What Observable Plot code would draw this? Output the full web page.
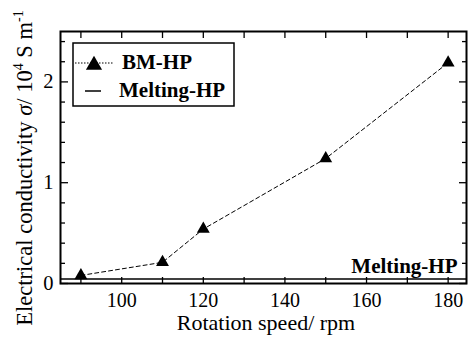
<!DOCTYPE html>
<html>
<head>
<meta charset="utf-8">
<script src="https://cdn.jsdelivr.net/npm/d3@7"></script>
<script src="https://cdn.jsdelivr.net/npm/@observablehq/plot@0.6"></script>
<style>
  html, body { margin: 0; padding: 0; background: #fff; }
  #chart svg { display: block; }
</style>
</head>
<body>
<div id="chart"></div>
<script>
// Data
const speeds = [90, 110, 120, 150, 180];
const bmHP = [0.08, 0.21, 0.54, 1.24, 2.19];
const meltingHP = 0.045;
const seriesNames = ["BM-HP", "Melting-HP"];
const xTickLabels = [100, 120, 140, 160, 180];
const xTicks = [90, 100, 110, 120, 130, 140, 150, 160, 170, 180];
const yTickLabels = [0, 1, 2];
const yMinorTicks = [0.2, 0.4, 0.6, 0.8, 1.2, 1.4, 1.6, 1.8, 2.2, 2.4];

const rows = speeds.map((s, i) => ({speed: s, sigma: bmHP[i]}));
const font = "Liberation Serif, Times New Roman, serif";

const plot = Plot.plot({
  width: 470,
  height: 340,
  marginLeft: 60,
  marginRight: 4,
  marginTop: 31,
  marginBottom: 57,
  style: {fontFamily: font, fontSize: "20px", color: "#000", background: "#fff"},
  x: {domain: [85, 184.5]},
  y: {domain: [0, 2.5]},
  marks: [
    // inward ticks
    Plot.axisX(xTicks, {anchor: "bottom", tickSize: -6, tickFormat: () => "", label: null, strokeWidth: 1.3}),
    Plot.axisX(xTicks, {anchor: "top", tickSize: -6, tickFormat: () => "", label: null, strokeWidth: 1.3}),
    Plot.axisX(xTickLabels, {anchor: "bottom", tickSize: 0, tickPadding: 9, tickFormat: d => String(d), label: null, fontFamily: font, fontSize: 20}),
    Plot.axisY(yTickLabels, {anchor: "left", tickSize: -8, tickFormat: () => "", label: null, strokeWidth: 1.3}),
    Plot.axisY(yTickLabels, {anchor: "right", tickSize: -8, tickFormat: () => "", label: null, strokeWidth: 1.3}),
    Plot.axisY(yMinorTicks, {anchor: "left", tickSize: -5, tickFormat: () => "", label: null, strokeWidth: 1.3}),
    Plot.axisY(yMinorTicks, {anchor: "right", tickSize: -5, tickFormat: () => "", label: null, strokeWidth: 1.3}),
    Plot.axisY(yTickLabels, {anchor: "left", tickSize: 0, tickPadding: 7, tickFormat: d => String(d), label: null, fontFamily: font, fontSize: 20.5}),
    // Melting-HP reference line
    Plot.ruleY([meltingHP], {stroke: "#000", strokeWidth: 1.5}),
    Plot.text([seriesNames[1]], {x: () => 184.5, y: () => meltingHP, text: d => d, textAnchor: "end", dx: -9, dy: -13, fontWeight: "bold", fontSize: 21, fontFamily: font, fill: "#000"}),
    // BM-HP series
    Plot.line(rows, {x: "speed", y: "sigma", stroke: "#000", strokeWidth: 1, strokeDasharray: "4,3"}),
    Plot.dot(rows, {x: "speed", y: "sigma", symbol: "triangle", r: 4.8, fill: "#000", stroke: "none"}),
    Plot.frame({stroke: "#000", strokeWidth: 2})
  ]
});

const svg = d3.select(plot);

// Y axis label
const yl = svg.append("text")
  .attr("transform", "translate(32,168) rotate(-90)")
  .attr("text-anchor", "middle")
  .attr("font-family", font)
  .attr("font-size", 22.5)
  .attr("fill", "#000");
yl.append("tspan").text("Electrical conductivity ");
yl.append("tspan").attr("font-style", "italic").text("σ");
yl.append("tspan").text("/ 10");
yl.append("tspan").attr("font-size", 14).attr("dy", -9).text("4");
yl.append("tspan").attr("dy", 9).text(" S m");
yl.append("tspan").attr("font-size", 14).attr("dy", -9).text("-1");

// X axis label
svg.append("text")
  .attr("x", 266).attr("y", 330)
  .attr("text-anchor", "middle")
  .attr("font-family", font)
  .attr("font-size", 22)
  .attr("fill", "#000")
  .text("Rotation speed/ rpm");

// Legend
const lg = svg.append("g").attr("font-family", font).attr("font-size", 21).attr("font-weight", "bold").attr("text-anchor", "start");
lg.append("rect").attr("x", 73).attr("y", 43).attr("width", 161).attr("height", 63)
  .attr("fill", "#fff").attr("stroke", "#000").attr("stroke-width", 1.5);
lg.append("line").attr("x1", 75).attr("x2", 113).attr("y1", 63).attr("y2", 63)
  .attr("stroke", "#000").attr("stroke-width", 1.2).attr("stroke-dasharray", "1.5,1.5");
lg.append("path").attr("d", d3.symbol(d3.symbolTriangle, Math.PI * 6 * 6)())
  .attr("transform", "translate(94,65)").attr("fill", "#000");
lg.append("line").attr("x1", 85).attr("x2", 101).attr("y1", 91).attr("y2", 91)
  .attr("stroke", "#000").attr("stroke-width", 1.5);
lg.append("text").attr("x", 122).attr("y", 69).attr("fill", "#000").text(seriesNames[0]);
lg.append("text").attr("x", 119).attr("y", 97).attr("fill", "#000").text(seriesNames[1]);

document.getElementById("chart").appendChild(plot);
</script>
</body>
</html>
